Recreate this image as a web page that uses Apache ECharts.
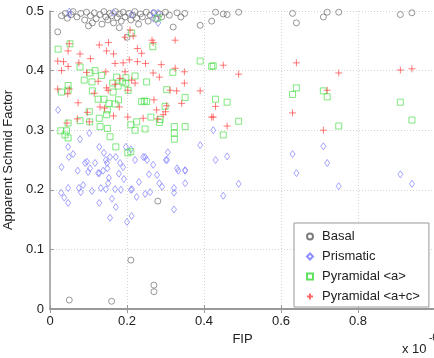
<!DOCTYPE html>
<html><head><meta charset="utf-8">
<script src="https://cdn.jsdelivr.net/npm/echarts@6/dist/echarts.min.js"></script>
<style>html,body{margin:0;padding:0;background:#fff}#c{width:434px;height:358px}</style>
</head><body><div id="c"></div>
<script>
var seriesNames = ['Basal', 'Prismatic', 'Pyramidal <a>', 'Pyramidal <a+c>'];
var xTicks = [0, 0.2, 0.4, 0.6, 0.8];
var yTicks = [0, 0.1, 0.2, 0.3, 0.4, 0.5];

var basal = [[0.02,0.465],[0.03,0.492],[0.04,0.496],[0.045,0.488],[0.055,0.494],[0.06,0.499],[0.07,0.49],[0.08,0.496],[0.09,0.485],[0.095,0.498],[0.105,0.492],[0.11,0.48],[0.115,0.497],[0.12,0.487],[0.13,0.494],[0.135,0.478],[0.14,0.499],[0.145,0.49],[0.15,0.485],[0.155,0.496],[0.16,0.492],[0.165,0.48],[0.17,0.499],[0.175,0.489],[0.18,0.495],[0.185,0.483],[0.19,0.498],[0.195,0.49],[0.2,0.456],[0.205,0.496],[0.21,0.485],[0.215,0.493],[0.22,0.499],[0.225,0.488],[0.23,0.478],[0.235,0.495],[0.24,0.49],[0.25,0.498],[0.255,0.483],[0.26,0.493],[0.27,0.497],[0.275,0.486],[0.285,0.495],[0.29,0.49],[0.3,0.498],[0.31,0.493],[0.32,0.473],[0.33,0.497],[0.34,0.49],[0.35,0.496],[0.39,0.476],[0.42,0.483],[0.43,0.498],[0.45,0.495],[0.46,0.494],[0.49,0.498],[0.63,0.496],[0.64,0.48],[0.71,0.49],[0.72,0.498],[0.75,0.498],[0.91,0.494],[0.94,0.497],[0.05,0.015],[0.16,0.013],[0.21,0.082],[0.27,0.04],[0.27,0.029],[0.28,0.181],[0.1,0.475],[0.18,0.472]];

var prismatic = [[0.05,0.499],[0.05,0.494],[0.165,0.497],[0.212,0.494],[0.268,0.497],[0.281,0.48],[0.281,0.497],[0.268,0.488],
[0.021,0.334],[0.047,0.272],[0.049,0.255],[0.03,0.238],[0.078,0.285],[0.102,0.295],[0.128,0.272],[0.091,0.245],[0.104,0.236],[0.125,0.228],[0.145,0.25],[0.149,0.236],[0.156,0.255],[0.171,0.255],[0.182,0.245],[0.197,0.272],[0.21,0.268],[0.221,0.25],[0.242,0.255],[0.252,0.25],[0.268,0.242],[0.301,0.25],[0.33,0.236],[0.351,0.233],[0.39,0.275],[0.424,0.3],[0.117,0.245],[0.19,0.238],
[0.029,0.195],[0.037,0.187],[0.047,0.203],[0.047,0.178],[0.075,0.203],[0.08,0.196],[0.086,0.208],[0.109,0.198],[0.099,0.23],[0.128,0.228],[0.128,0.178],[0.132,0.203],[0.145,0.201],[0.151,0.211],[0.153,0.22],[0.161,0.185],[0.169,0.201],[0.156,0.153],[0.171,0.171],[0.179,0.227],[0.184,0.2],[0.192,0.218],[0.2,0.146],[0.212,0.156],[0.21,0.2],[0.225,0.188],[0.231,0.213],[0.247,0.193],[0.26,0.196],[0.257,0.226],[0.278,0.225],[0.284,0.211],[0.291,0.205],[0.322,0.203],[0.322,0.195],[0.322,0.167],[0.351,0.211],[0.351,0.232],[0.072,0.232],[0.138,0.232],[0.333,0.232],[0.096,0.247],[0.148,0.245],[0.247,0.255],[0.304,0.25],[0.306,0.263],[0.213,0.201],[0.06,0.26],[0.14,0.262],
[0.43,0.25],[0.46,0.256],[0.63,0.26],[0.71,0.273],[0.72,0.245],[0.64,0.228],[0.91,0.226],[0.45,0.19],[0.49,0.21],[0.75,0.206],[0.94,0.21]];

var pyramidalA = [[0.021,0.436],[0.052,0.445],[0.078,0.406],[0.117,0.4],[0.104,0.396],[0.089,0.384],[0.047,0.375],[0.047,0.367],[0.03,0.364],[0.109,0.381],[0.134,0.392],[0.11,0.366],[0.125,0.352],[0.14,0.352],[0.153,0.345],[0.164,0.364],[0.177,0.374],[0.163,0.379],[0.173,0.389],[0.197,0.388],[0.203,0.367],[0.178,0.351],[0.169,0.344],[0.149,0.334],[0.147,0.326],[0.128,0.32],[0.102,0.331],[0.103,0.314],[0.078,0.316],[0.047,0.312],[0.028,0.299],[0.043,0.299],[0.039,0.292],[0.047,0.287],[0.13,0.306],[0.149,0.303],[0.156,0.289],[0.171,0.272],[0.202,0.262],[0.21,0.264],[0.21,0.309],[0.225,0.314],[0.221,0.3],[0.247,0.302],[0.245,0.349],[0.251,0.348],[0.262,0.322],[0.284,0.313],[0.286,0.318],[0.299,0.34],[0.303,0.368],[0.319,0.397],[0.323,0.306],[0.323,0.295],[0.323,0.285],[0.351,0.306],[0.351,0.355],[0.39,0.416],[0.424,0.408],[0.197,0.379],[0.251,0.381],[0.267,0.44],[0.212,0.463],[0.28,0.488],[0.221,0.391],[0.238,0.348],[0.188,0.381],
[0.42,0.407],[0.43,0.352],[0.46,0.347],[0.49,0.315],[0.45,0.292],[0.64,0.371],[0.63,0.36],[0.71,0.366],[0.72,0.356],[0.75,0.307],[0.91,0.347],[0.94,0.317]];

var pyramidalAC = [[0.05,0.445],[0.02,0.416],[0.035,0.415],[0.047,0.407],[0.03,0.4],[0.047,0.433],[0.02,0.369],[0.05,0.369],[0.046,0.361],[0.044,0.312],[0.078,0.428],[0.075,0.413],[0.073,0.346],[0.071,0.319],[0.105,0.42],[0.095,0.397],[0.097,0.33],[0.102,0.314],[0.125,0.382],[0.115,0.362],[0.128,0.443],[0.152,0.447],[0.147,0.433],[0.165,0.428],[0.169,0.412],[0.145,0.398],[0.147,0.371],[0.151,0.367],[0.169,0.377],[0.13,0.339],[0.142,0.337],[0.165,0.324],[0.19,0.413],[0.206,0.418],[0.195,0.398],[0.202,0.367],[0.202,0.322],[0.221,0.379],[0.227,0.437],[0.227,0.415],[0.238,0.429],[0.248,0.412],[0.265,0.451],[0.268,0.447],[0.268,0.396],[0.284,0.389],[0.289,0.41],[0.27,0.351],[0.277,0.334],[0.3,0.331],[0.294,0.326],[0.242,0.32],[0.28,0.319],[0.325,0.451],[0.325,0.404],[0.349,0.398],[0.349,0.379],[0.329,0.366],[0.312,0.367],[0.342,0.345],[0.39,0.366],[0.424,0.322],[0.303,0.341],[0.208,0.468],[0.195,0.456],[0.216,0.458],[0.18,0.339],[0.212,0.384],[0.182,0.387],
[0.45,0.409],[0.49,0.394],[0.64,0.413],[0.75,0.396],[0.72,0.367],[0.63,0.329],[0.71,0.3],[0.43,0.34],[0.42,0.322],[0.46,0.307],[0.91,0.401],[0.94,0.403]];

var FONT = 'Liberation Sans';
var plusPath = 'path://M5,0L5,10M0,5L10,5';

function fmt(v){ return v === 0 ? '0' : String(Math.round(v*10)/10); }

var chart = echarts.init(document.getElementById('c'), null, {renderer:'canvas'});
chart.setOption({
  animation: false,
  backgroundColor: '#fff',
  grid: { left: 50, top: 11, width: 385, height: 298, show: false, containLabel: false, outerBoundsMode: 'none' },
  xAxis: [{
    type: 'value', min: 0, max: 1, interval: 0.2,
    name: 'FIP', nameLocation: 'middle', nameGap: 21,
    nameTextStyle: { fontFamily: FONT, fontSize: 13, color: '#222' },
    axisLine: { show: true, onZero: false, lineStyle: { color: '#999', width: 1.5 } },
    axisTick: { show: true, inside: true, length: 4, lineStyle: { color: '#999' } },
    axisLabel: { fontFamily: FONT, fontSize: 13, color: '#222', margin: 6,
      formatter: function(v){ return xTicks.indexOf(Math.round(v*10)/10) >= 0 ? fmt(v) : ''; } },
    splitLine: { show: true, lineStyle: { color: '#d4d4d4', type: [1,2], width: 1 } }
  },{
    type: 'value', position: 'top', min: 0, max: 1, interval: 0.2,
    axisLine: { show: true, lineStyle: { color: '#999', width: 2 } },
    axisTick: { show: true, inside: true, length: 4, lineStyle: { color: '#999' } },
    axisLabel: { show: false }, splitLine: { show: false }
  }],
  yAxis: {
    type: 'value', min: 0, max: 0.5, interval: 0.1,
    name: 'Apparent Schmid Factor', nameLocation: 'middle', nameGap: 30,
    nameTextStyle: { fontFamily: FONT, fontSize: 13, color: '#222' },
    axisLine: { show: true, onZero: false, lineStyle: { color: '#999', width: 1.5 } },
    axisTick: { show: true, inside: true, length: 4, lineStyle: { color: '#999' } },
    axisLabel: { fontFamily: FONT, fontSize: 13, color: '#222', margin: 6,
      formatter: function(v){ return fmt(v); } },
    splitLine: { show: true, lineStyle: { color: '#d4d4d4', type: [1,2], width: 1 } }
  },
  legend: {
    orient: 'vertical', left: 294, top: 223,
    backgroundColor: '#fff', borderColor: '#999', borderWidth: 1,
    padding: [7, 9, 4, 12], itemGap: 7, itemWidth: 6, itemHeight: 6,
    textStyle: { fontFamily: FONT, fontSize: 13, color: '#222', padding: [0,0,0,4] },
    data: seriesNames
  },
  graphic: [{
    type: 'text', left: 402, top: 343,
    style: { text: 'x 10', font: '13px "Liberation Sans"', fill: '#222' }
  },{
    type: 'text', left: 429, top: 333,
    style: { text: '-6', font: '10px "Liberation Sans"', fill: '#222' }
  }],
  series: [{
    name: seriesNames[0], type: 'scatter', data: basal,
    symbol: 'circle', symbolSize: 6,
    itemStyle: { color: 'rgba(0,0,0,0)', borderColor: '#666', borderWidth: 0.8, opacity: 0.85 }
  },{
    name: seriesNames[1], type: 'scatter', data: prismatic,
    symbol: 'diamond', symbolSize: [5, 7],
    itemStyle: { color: 'rgba(0,0,0,0)', borderColor: '#7a7aff', borderWidth: 0.8, opacity: 0.85 }
  },{
    name: seriesNames[2], type: 'scatter', data: pyramidalA,
    symbol: 'rect', symbolSize: 6,
    itemStyle: { color: 'rgba(0,0,0,0)', borderColor: '#44dd44', borderWidth: 0.8, opacity: 0.85 }
  },{
    name: seriesNames[3], type: 'scatter', data: pyramidalAC,
    symbol: plusPath, symbolSize: 7,
    itemStyle: { color: 'rgba(0,0,0,0)', borderColor: '#ff4444', borderWidth: 0.9, opacity: 0.8 }
  }]
});
</script></body></html>
